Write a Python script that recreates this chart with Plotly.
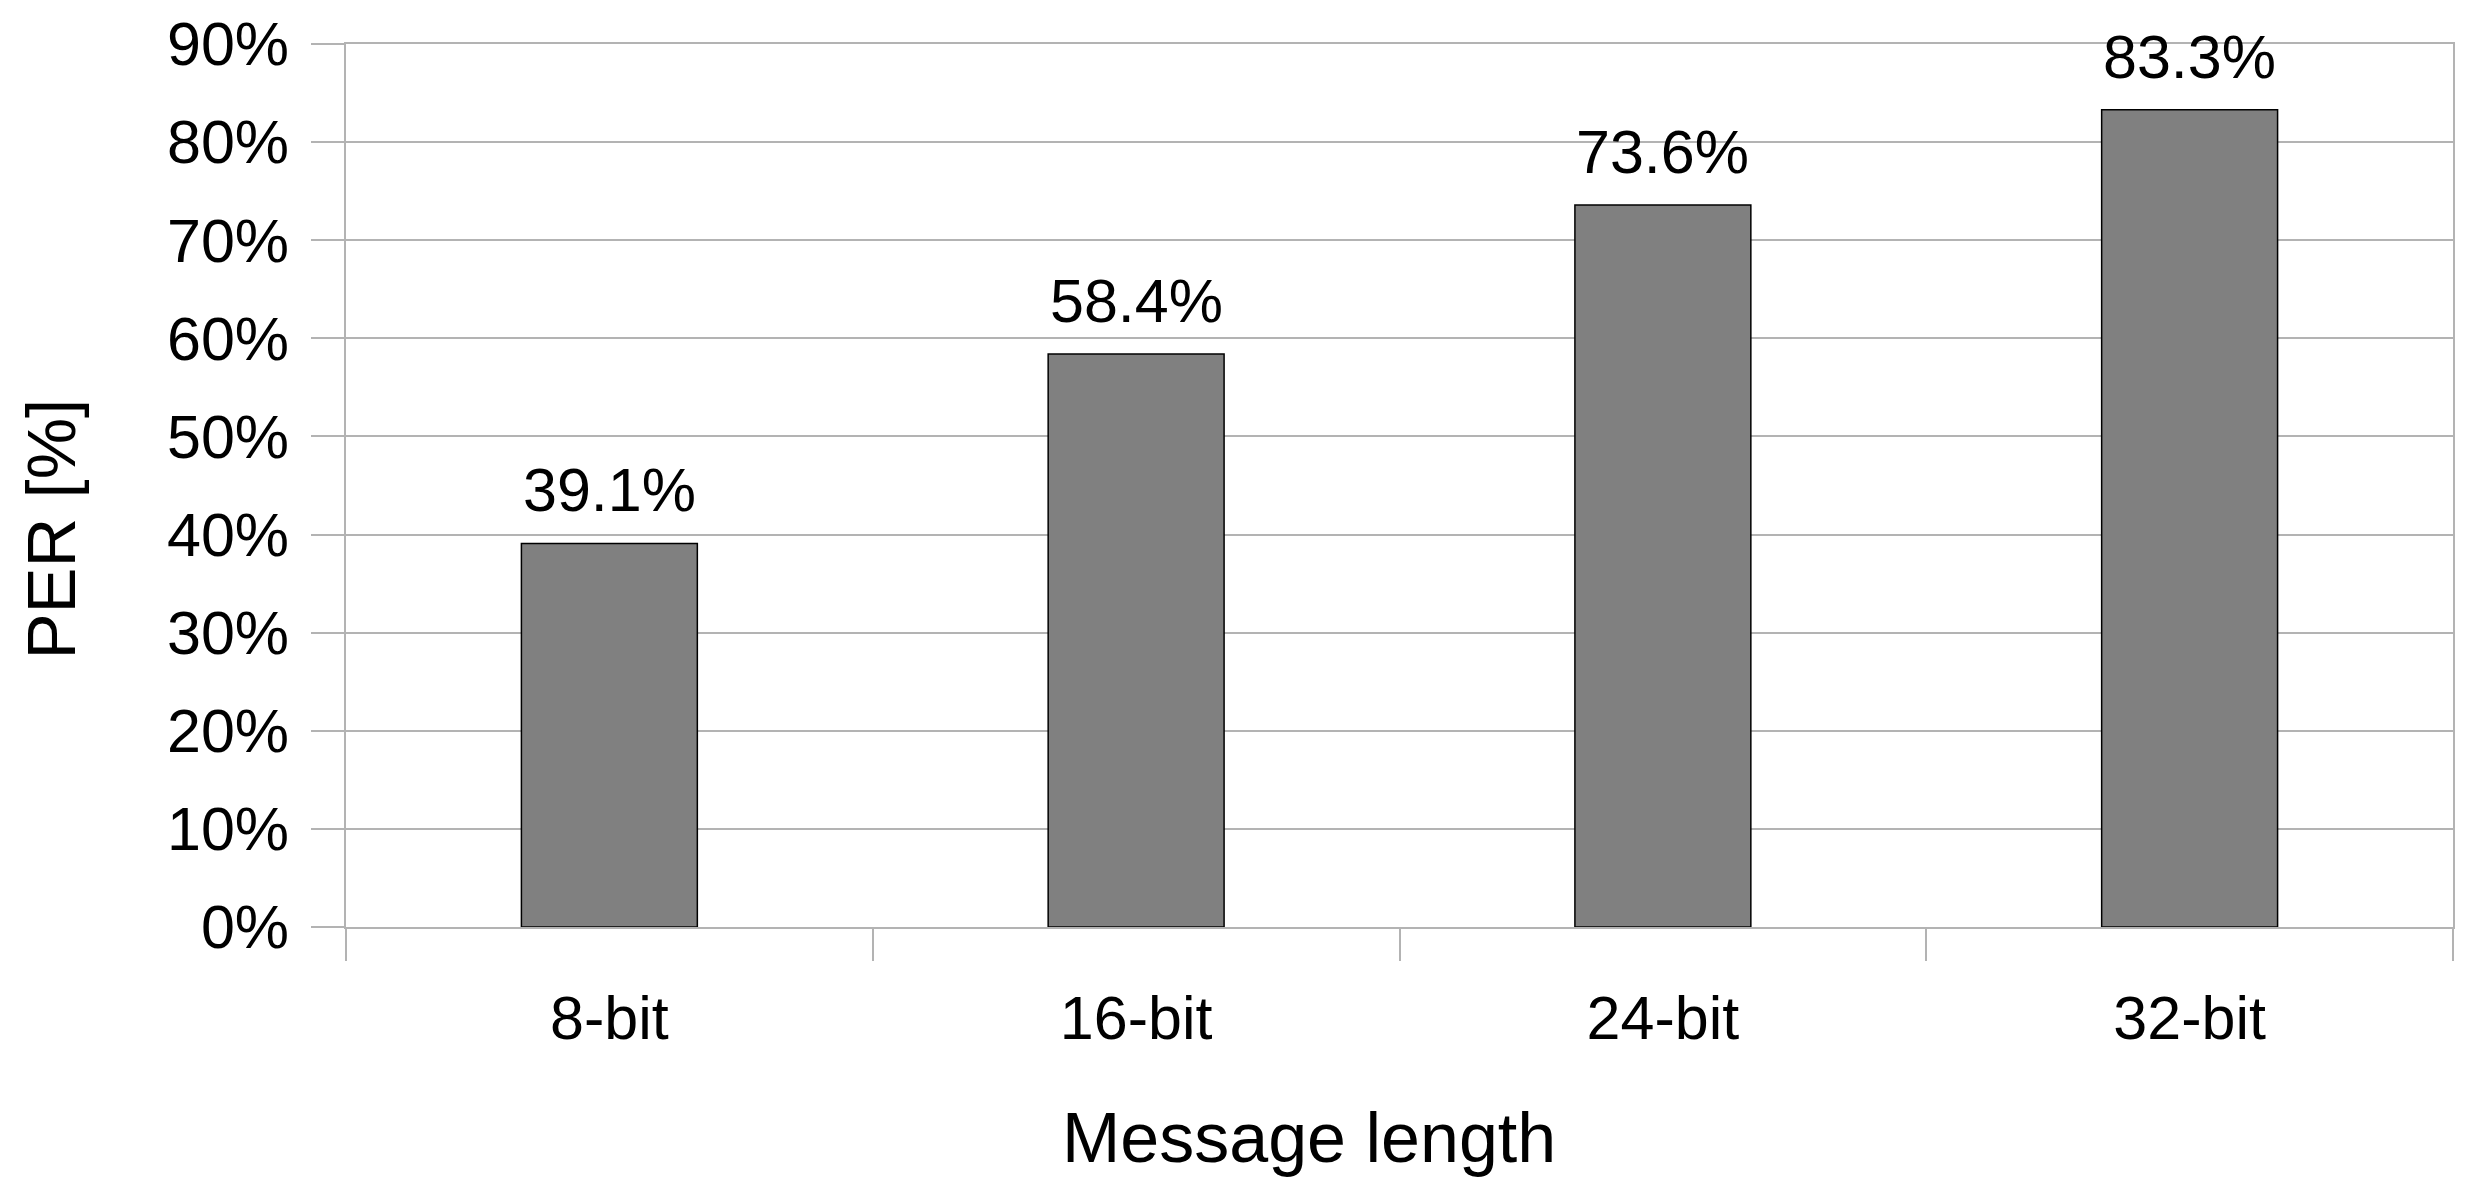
import plotly.graph_objects as go

# message length categories and packet error rate (%)
lengths = ['8-bit', '16-bit', '24-bit', '32-bit']
per = [39.1, 58.4, 73.6, 83.3]
y_ticks = [0, 10, 20, 30, 40, 50, 60, 70, 80, 90]
y_tick_text = ['%d%%' % t for t in y_ticks]

grid = '#b3b3b3'
font = 'Liberation Sans, Arial, sans-serif'

fig = go.Figure()
fig.add_trace(go.Bar(
    x=lengths,
    y=per,
    marker=dict(color='#808080', line=dict(color='black', width=1.5)),
    width=0.334,
    showlegend=False,
))

# value labels above the bars
for name, v in zip(lengths, per):
    fig.add_annotation(
        x=name, y=v, text='%.1f%%' % v,
        showarrow=False, yanchor='bottom', yshift=17,
        font=dict(family=font, size=61, color='black'),
    )

# axis titles
fig.add_annotation(
    xref='paper', yref='paper', x=-0.1396, y=0.4512,
    text='PER [%]', textangle=-90, showarrow=False,
    xanchor='center', yanchor='middle',
    font=dict(family=font, size=69, color='black'),
)
fig.add_annotation(
    xref='paper', yref='paper', x=0.457, y=-0.2392,
    text='Message length', showarrow=False,
    xanchor='center', yanchor='middle',
    font=dict(family=font, size=70, color='black'),
)

# page body adds an 8px offset, so margins are shifted by that much
fig.update_layout(
    width=2492,
    height=1194,
    margin=dict(l=338, r=47, t=36, b=275, autoexpand=False),
    plot_bgcolor='white',
    paper_bgcolor='white',
    font=dict(family=font, size=61, color='black'),
    xaxis=dict(
        type='category',
        automargin=False,
        showline=True, linecolor=grid, linewidth=1.5, mirror=True,
        ticks='outside', tickson='boundaries', ticklen=32,
        tickcolor=grid, tickwidth=1.5,
        ticklabelstandoff=37,
        showgrid=False,
        tickfont=dict(size=61),
    ),
    yaxis=dict(
        range=[0, 90],
        automargin=False,
        tickmode='array',
        tickvals=y_ticks,
        ticktext=y_tick_text,
        showline=True, linecolor=grid, linewidth=1.5, mirror=True,
        ticks='outside', ticklen=33, tickcolor=grid, tickwidth=1.5,
        ticklabelstandoff=10,
        showgrid=True, gridcolor=grid, gridwidth=1.5,
        zeroline=False,
        tickfont=dict(size=61),
    ),
)

fig.write_html("out.html")
